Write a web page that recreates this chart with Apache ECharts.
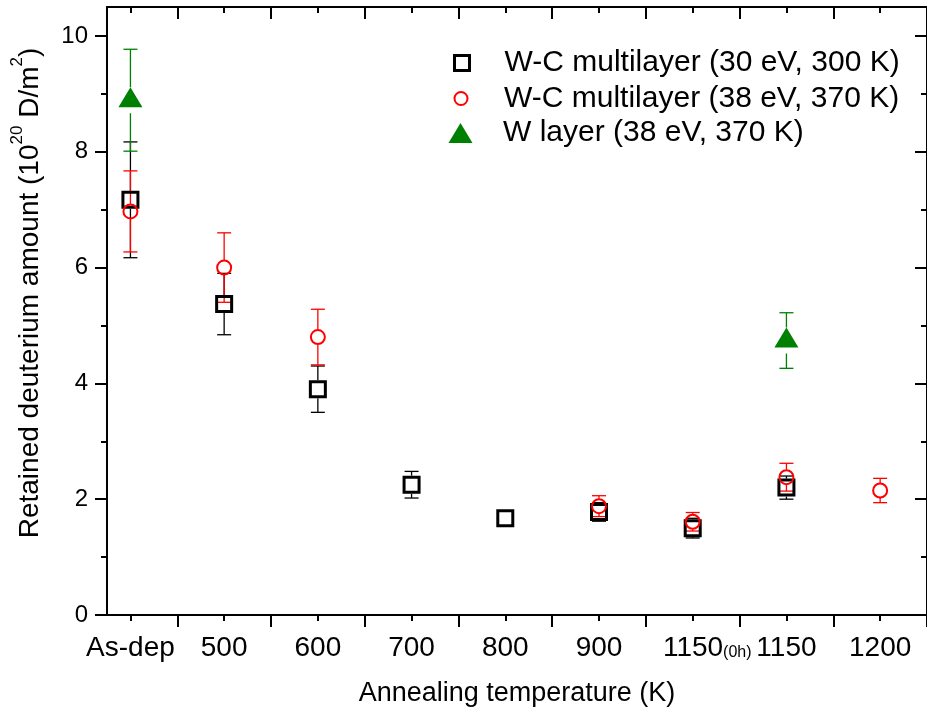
<!DOCTYPE html>
<html>
<head>
<meta charset="utf-8">
<script src="https://cdn.jsdelivr.net/npm/echarts@6/dist/echarts.min.js"></script>
<style>
  html, body { margin: 0; padding: 0; background: #fff; }
  #chart { width: 927px; height: 712px; }
</style>
</head>
<body>
<div id="chart"></div>
<script>
// annealing steps shown on the x axis (index = position)
const categories = ["As-dep", "500", "600", "700", "800", "900", "1150(0h)", "1150", "1200"];

// W-C multilayer (30 eV, 300 K)
const wc30X = [0, 1, 2, 3, 4, 5, 6, 7];
const wc30Y = [7.17, 5.37, 3.90, 2.25, 1.67, 1.78, 1.50, 2.20];
const wc30Err = [1.00, 0.53, 0.40, 0.23, 0.13, 0.16, 0.17, 0.20];

// W-C multilayer (38 eV, 370 K)
const wc38X = [0, 1, 2, 5, 6, 7, 8];
const wc38Y = [6.97, 6.00, 4.80, 1.88, 1.61, 2.38, 2.15];
const wc38Err = [0.70, 0.60, 0.48, 0.18, 0.16, 0.24, 0.21];

// W layer (38 eV, 370 K)
const wX = [0, 7];
const wY = [8.89, 4.74];
const wErr = [0.88, 0.48];

// tick positions
const xLabelTicks = [0, 1, 2, 3, 4, 5, 6, 7, 8];
const xMajorTicks = [0.5, 1.5, 2.5, 3.5, 4.5, 5.5, 6.5, 7.5, 8.5];
const yLabelTicks = [0, 2, 4, 6, 8, 10];
const yMinorTicks = [1, 3, 5, 7, 9];

const FONT = "'Liberation Sans', Arial, sans-serif";
const X_MIN = -0.25, X_MAX = 8.5, Y_MIN = 0, Y_MAX = 10.5;

const names = [
  "W-C multilayer (30 eV, 300 K)",
  "W-C multilayer (38 eV, 370 K)",
  "W layer (38 eV, 370 K)",
];

function pack(xs, ys, es) {
  return xs.map((x, i) => [x, ys[i], es[i]]);
}

// vertical error bar with caps, leaving a gap where the marker sits
function errorBar(color, gap) {
  return function (params, api) {
    const x = api.value(0), y = api.value(1), e = api.value(2);
    const c = api.coord([x, y]);
    const hi = api.coord([x, y + e]);
    const lo = api.coord([x, y - e]);
    const half = 7;
    const style = { stroke: color, lineWidth: 1.3 };
    const children = [
      { type: "line", shape: { x1: hi[0] - half, y1: hi[1], x2: hi[0] + half, y2: hi[1] }, style },
      { type: "line", shape: { x1: lo[0] - half, y1: lo[1], x2: lo[0] + half, y2: lo[1] }, style },
    ];
    if (c[1] - gap > hi[1]) {
      children.push({ type: "line", shape: { x1: c[0], y1: hi[1], x2: c[0], y2: c[1] - gap }, style });
    }
    if (c[1] + gap < lo[1]) {
      children.push({ type: "line", shape: { x1: c[0], y1: c[1] + gap, x2: c[0], y2: lo[1] }, style });
    }
    return { type: "group", children };
  };
}

function xAxisBase(position, tickValues, tickLen, inside, showLine) {
  return {
    type: "value",
    position,
    min: X_MIN,
    max: X_MAX,
    axisLine: { show: showLine, onZero: false, lineStyle: { color: "#000", width: 2 } },
    axisTick: { show: true, inside, length: tickLen, customValues: tickValues, lineStyle: { color: "#000", width: 2 } },
    axisLabel: { show: false },
    splitLine: { show: false },
  };
}

function yAxisBase(position, tickValues, tickLen, inside, showLine) {
  return {
    type: "value",
    position,
    min: Y_MIN,
    max: Y_MAX,
    axisLine: { show: showLine, onZero: false, lineStyle: { color: "#000", width: 2 } },
    axisTick: { show: true, inside, length: tickLen, customValues: tickValues, lineStyle: { color: "#000", width: 2 } },
    axisLabel: { show: false },
    splitLine: { show: false },
  };
}

const xBottomMajor = xAxisBase("bottom", xMajorTicks, 12, false, true);
xBottomMajor.name = "Annealing temperature (K)";
xBottomMajor.nameLocation = "middle";
xBottomMajor.nameGap = 65;
xBottomMajor.nameTextStyle = { fontFamily: FONT, fontSize: 27, color: "#000" };

const xBottomMinor = xAxisBase("bottom", xLabelTicks, 6, false, false);
xBottomMinor.axisLabel = {
  show: true,
  customValues: xLabelTicks,
  margin: 19,
  fontFamily: FONT,
  fontSize: 28,
  color: "#000",
  formatter: (v) => {
    const name = categories[Math.round(v)];
    const m = name.match(/^(\d+)\((.+)\)$/);
    if (m) return "{sp|}{a|" + m[1] + "}{s|(" + m[2] + ")}";
    return "{a|" + name + "}";
  },
  rich: {
    sp: { width: 29, fontSize: 16 },
    a: { fontFamily: FONT, fontSize: 28, color: "#000", verticalAlign: "bottom" },
    s: { fontFamily: FONT, fontSize: 16, color: "#000", verticalAlign: "bottom", padding: [0, 0, 1, 0] },
  },
};

const yLeftMajor = yAxisBase("left", yLabelTicks, 12, false, true);
yLeftMajor.axisLabel = {
  show: true,
  customValues: yLabelTicks,
  margin: 19,
  fontFamily: FONT,
  fontSize: 24,
  color: "#000",
};
yLeftMajor.name = "{n|Retained deuterium amount (10}{sup|20}{n| D/m}{sup|2}{n|)}";
yLeftMajor.nameLocation = "middle";
yLeftMajor.nameGap = 63;
yLeftMajor.nameTextStyle = {
  fontFamily: FONT,
  fontSize: 28,
  color: "#000",
  padding: [0, 0, 0, 36],
  rich: {
    n: { fontFamily: FONT, fontSize: 28, lineHeight: 35, color: "#000", verticalAlign: "bottom" },
    sup: { fontFamily: FONT, fontSize: 17, lineHeight: 17, color: "#000", verticalAlign: "top" },
  },
};

function legendFor(name, top, iconW, iconH, centerX, itemStyle) {
  const left = centerX - iconW / 2;
  return {
    show: true,
    orient: "vertical",
    left,
    top,
    padding: 0,
    itemWidth: iconW,
    itemHeight: iconH,
    selectedMode: false,
    data: [{ name, itemStyle }],
    textStyle: {
      fontFamily: FONT,
      fontSize: 30,
      color: "#000",
      padding: [0, 0, 0, 503 - (left + iconW + 5)],
    },
  };
}

const option = {
  animation: false,
  backgroundColor: "#fff",
  grid: { left: 107, top: 7, bottom: 97, width: 826, containLabel: false },
  legend: [
    legendFor(names[0], 48, 15, 15, 460.5, { color: "rgba(0,0,0,0)", borderColor: "#000", borderWidth: 3 }),
    legendFor(names[1], 83.5, 13, 13, 460, { color: "rgba(0,0,0,0)", borderColor: "#ff0000", borderWidth: 2 }),
    legendFor(names[2], 118, 24, 20, 460.5, { color: "#008000", borderWidth: 0 }),
  ],
  xAxis: [
    xBottomMajor,
    xBottomMinor,
    xAxisBase("top", xMajorTicks, 12, true, true),
    xAxisBase("top", xLabelTicks, 6, true, false),
  ],
  yAxis: [
    yLeftMajor,
    yAxisBase("left", yMinorTicks, 6, false, false),
    yAxisBase("right", yLabelTicks, 12, true, true),
    yAxisBase("right", yMinorTicks, 6, true, false),
  ],
  series: [
    {
      type: "custom",
      renderItem: errorBar("#000", 9),
      data: pack(wc30X, wc30Y, wc30Err),
      encode: { x: 0, y: 1 },
      silent: true,
    },
    {
      name: names[0],
      type: "scatter",
      symbol: "rect",
      symbolSize: 15,
      itemStyle: { color: "rgba(0,0,0,0)", borderColor: "#000", borderWidth: 3, opacity: 1 },
      data: pack(wc30X, wc30Y, wc30Err),
      encode: { x: 0, y: 1 },
    },
    {
      type: "custom",
      renderItem: errorBar("#ff0000", 7.5),
      data: pack(wc38X, wc38Y, wc38Err),
      encode: { x: 0, y: 1 },
      silent: true,
    },
    {
      name: names[1],
      type: "scatter",
      symbol: "circle",
      symbolSize: 14,
      itemStyle: { color: "rgba(0,0,0,0)", borderColor: "#ff0000", borderWidth: 2, opacity: 1 },
      data: pack(wc38X, wc38Y, wc38Err),
      encode: { x: 0, y: 1 },
    },
    {
      type: "custom",
      renderItem: errorBar("#008000", 13),
      data: pack(wX, wY, wErr),
      encode: { x: 0, y: 1 },
      silent: true,
    },
    {
      name: names[2],
      type: "scatter",
      symbol: "triangle",
      symbolSize: [24, 20],
      symbolOffset: [0, -3],
      itemStyle: { color: "#008000", opacity: 1 },
      data: pack(wX, wY, wErr),
      encode: { x: 0, y: 1 },
    },
  ],
};

const chart = echarts.init(document.getElementById("chart"));
chart.setOption(option);
</script>
</body>
</html>
